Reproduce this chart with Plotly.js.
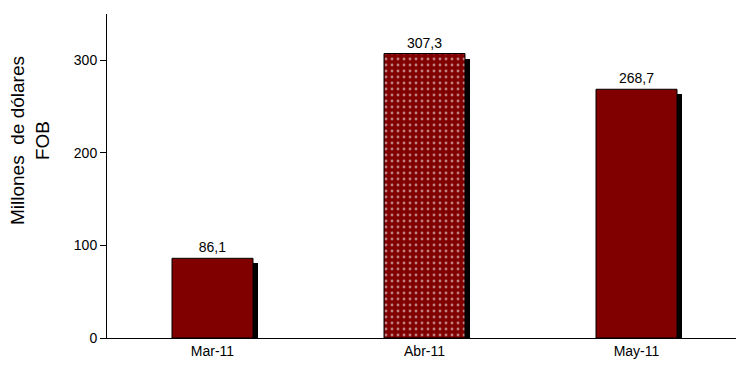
<!DOCTYPE html>
<html>
<head>
<meta charset="utf-8">
<script src="https://cdn.plot.ly/plotly-3.0.1.min.js"></script>
<style>html,body{margin:0;padding:0;background:#fff;}#chart{width:736px;height:373px;}</style>
</head>
<body>
<div id="chart"></div>
<script>
var categories = ["Mar-11", "Abr-11", "May-11"];
var values = [86.1, 307.3, 268.7];
var valueLabels = ["86,1", "307,3", "268,7"];
var patterns = ["", ".", ""];
var yTitle = "Millones  de dólares<br>FOB";

var pxPerUnit = (338 - 14) / 350;
var shadowDrop = 5 / pxPerUnit;
var xPx = 212;
var barW = 81 / xPx;
var shadowShift = 5 / xPx;
var xi = categories.map(function (c, i) { return i; });

var shadow = {
  type: "bar",
  x: xi,
  y: values.map(function (v) { return v - shadowDrop; }),
  width: barW,
  offset: -barW / 2 + shadowShift,
  marker: { color: "#000000", line: { width: 0 } },
  hoverinfo: "skip",
  showlegend: false
};
var main = {
  type: "bar",
  x: xi,
  y: values,
  width: barW,
  offset: -barW / 2,
  text: valueLabels,
  textposition: "outside",
  cliponaxis: false,
  textfont: { family: "Liberation Sans, Arial, sans-serif", size: 14, color: "#000" },
  marker: {
    color: "#800000",
    line: { color: "#000000", width: 1 },
    pattern: { shape: patterns, fgcolor: "#ffffff", bgcolor: "#800000", size: 6, solidity: 0.18, fillmode: "overlay" }
  },
  showlegend: false
};

var layout = {
  width: 736, height: 373,
  margin: { l: 107, r: 0, t: 14, b: 35 },
  paper_bgcolor: "#ffffff",
  plot_bgcolor: "#ffffff",
  barmode: "overlay",
  font: { family: "Liberation Sans, Arial, sans-serif", size: 14, color: "#000" },
  xaxis: {
    range: [-105.5 / xPx, (736 - 212.5) / xPx],
    tickvals: xi,
    ticktext: categories,
    showgrid: false, zeroline: false,
    showline: true, linecolor: "#000", linewidth: 1,
    ticks: "",
    tickfont: { size: 14 }
  },
  yaxis: {
    range: [0, 350],
    tickvals: [0, 100, 200, 300],
    showgrid: false, zeroline: false,
    showline: true, linecolor: "#000", linewidth: 1,
    ticks: "outside", ticklen: 6, tickcolor: "#000",
    tickfont: { size: 14 }
  },
  annotations: [{
    text: yTitle,
    textangle: -90,
    xref: "paper", yref: "paper",
    x: (30 - 107) / 629, y: (338 - 141) / 324,
    xanchor: "center", yanchor: "middle",
    showarrow: false,
    font: { family: "Liberation Sans, Arial, sans-serif", size: 19, color: "#000" }
  }],
  bargap: 0
};

Plotly.newPlot("chart", [shadow, main], layout, { staticPlot: true, displayModeBar: false });
</script>
</body>
</html>
